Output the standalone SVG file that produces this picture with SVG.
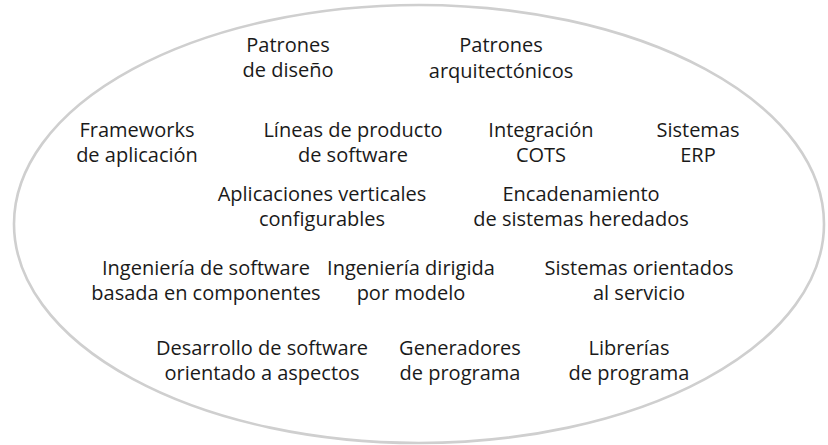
<svg xmlns="http://www.w3.org/2000/svg" width="828" height="445" viewBox="0 0 828 445">
<style>
text{font-family:"Open Sans","Noto Sans","Liberation Sans",sans-serif;font-size:20px;fill:#1a1a1a;text-anchor:middle}
.outline{fill:none;stroke:#cfcfcf;stroke-width:2.6}
</style>
<rect width="828" height="445" fill="#ffffff"/>
<ellipse class="outline" cx="419" cy="224" rx="405" ry="219"/>
<g id="patrones-diseno"><text x="288" y="52">Patrones</text><text x="288" y="77">de diseño</text></g>
<g id="patrones-arq"><text x="501" y="52">Patrones</text><text x="501" y="78">arquitectónicos</text></g>
<g id="frameworks"><text x="137" y="137">Frameworks</text><text x="137" y="162">de aplicación</text></g>
<g id="lineas"><text x="353" y="137">Líneas de producto</text><text x="353" y="162">de software</text></g>
<g id="cots"><text x="541" y="137">Integración</text><text x="541" y="162">COTS</text></g>
<g id="erp"><text x="698" y="137">Sistemas</text><text x="698" y="162">ERP</text></g>
<g id="aplicaciones"><text x="322" y="201">Aplicaciones verticales</text><text x="322" y="226">configurables</text></g>
<g id="encadenamiento"><text x="581" y="201">Encadenamiento</text><text x="581" y="226">de sistemas heredados</text></g>
<g id="cbse"><text x="206" y="275">Ingeniería de software</text><text x="206" y="300">basada en componentes</text></g>
<g id="mde"><text x="411" y="275">Ingeniería dirigida</text><text x="411" y="300">por modelo</text></g>
<g id="soa"><text x="639" y="275">Sistemas orientados</text><text x="639" y="300">al servicio</text></g>
<g id="aop"><text x="262" y="355">Desarrollo de software</text><text x="262" y="380">orientado a aspectos</text></g>
<g id="generadores"><text x="460" y="355">Generadores</text><text x="460" y="380">de programa</text></g>
<g id="librerias"><text x="629" y="355">Librerías</text><text x="629" y="380">de programa</text></g>
<g id="connectors"></g>
</svg>
